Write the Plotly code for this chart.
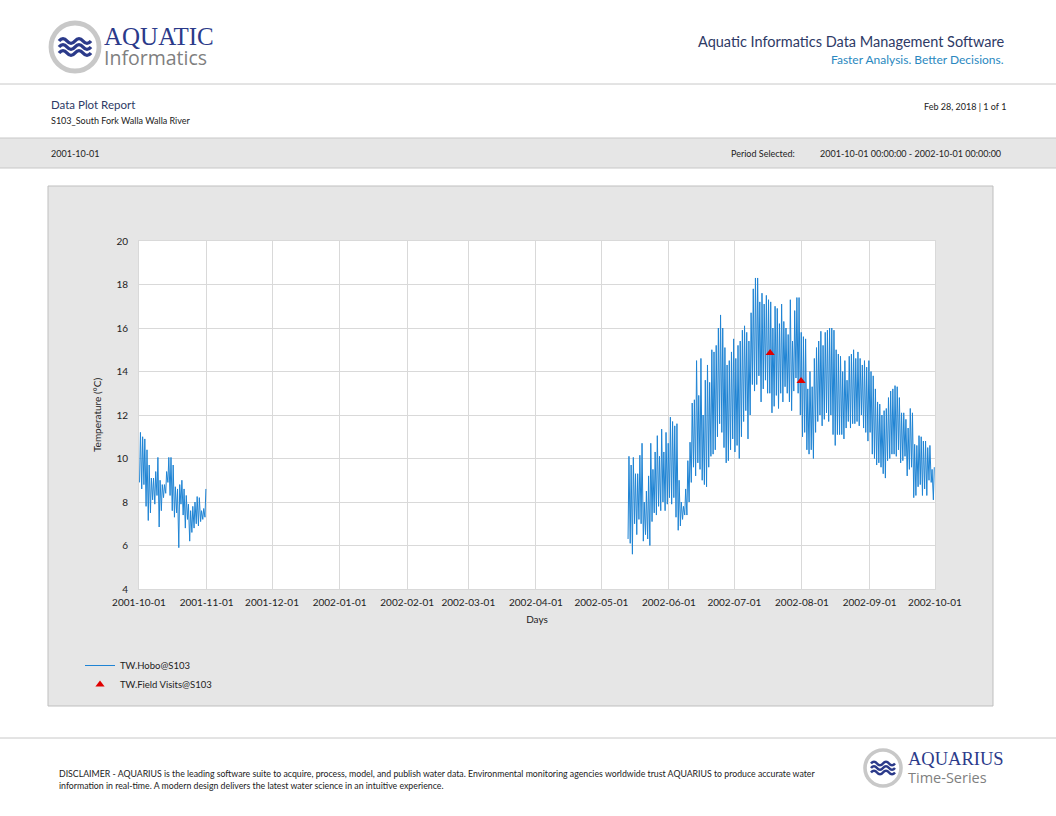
import pandas as pd
import plotly.graph_objects as go

W, H = 1056, 816

# %% Daten: Tagesmaximum / Tagesminimum
seg1_start = "2001-10-01"
seg1_max = [11.2, 11.0, 10.9, 10.4, 9.7, 9.1, 9.1, 9.4, 10.05, 9.0, 8.8, 8.8, 9.4, 10.05, 10.05, 9.7,
            8.7, 8.6, 8.8, 9.0, 8.6, 8.3, 7.9, 7.6, 7.8, 8.0, 8.25, 8.2, 7.6, 7.7, 8.6]
seg1_min = [8.9, 8.6, 8.8, 7.8, 7.15, 7.5, 8.1, 7.9, 8.3, 6.85, 7.6, 8.2, 8.4, 8.9, 8.3, 7.6,
            7.3, 7.5, 5.9, 7.9, 7.4, 6.8, 7.2, 6.2, 6.6, 6.8, 7.0, 6.9, 7.1, 7.2, 7.3]

seg2_start = "2002-05-13"
seg2_max = [10.1, 9.7, 10.05, 9.3, 9.3, 10.15, 10.7, 8.0, 8.5, 9.2, 10.7, 9.5, 10.3, 11.05, 10.1, 11.35,
            10.3, 11.2, 10.7, 11.9, 11.7, 11.5, 11.6, 9.0, 8.0, 7.8, 8.6, 9.9, 10.75, 12.55, 12.7, 14.5,
            12.9, 14.6, 12.0, 13.6, 14.3, 13.5, 15.0, 14.9, 15.2, 16.0, 16.6, 16.0, 15.1, 14.3, 14.5, 14.9,
            15.5, 14.6, 15.2, 15.4, 15.9, 16.1, 15.8, 15.4, 16.7, 17.8, 18.3, 18.3, 17.2,
            17.6, 17.1, 17.5, 17.3, 17.2, 16.0, 17.0, 16.9, 16.2, 17.1,
            16.3, 16.0, 15.7, 17.3, 15.4, 16.8, 17.4, 17.4, 15.8, 15.6, 15.5, 13.2, 14.0, 13.3, 14.6, 15.1,
            15.4, 15.85, 15.2, 15.8, 15.9, 16.0, 16.0, 15.9, 15.0, 14.8, 14.7, 14.0, 14.5, 13.6, 14.7, 14.8, 15.0,
            14.6, 14.9, 14.6, 14.3, 14.5, 14.2, 14.5, 14.0, 13.8, 13.2, 12.6, 12.5, 12.0, 12.2, 12.3, 12.8,
            13.1, 13.2, 13.35, 13.3, 12.8, 12.1, 12.1, 11.8, 11.4, 12.3, 12.1, 10.65, 10.6, 11.05, 11.0, 10.8,
            10.8, 10.5, 10.6, 9.5, 9.6]
seg2_min = [6.3, 6.1, 5.6, 7.0, 6.5, 7.2, 7.0, 6.2, 6.5, 6.3, 6.0, 7.1, 7.5, 7.4, 7.8, 7.6,
            8.0, 7.6, 7.9, 8.2, 7.9, 8.2, 7.3, 6.7, 6.9, 7.2, 7.4, 7.4, 8.0, 8.9, 9.6, 9.2,
            9.8, 9.5, 9.0, 8.8, 8.7, 9.6, 10.1, 10.2, 10.4, 11.0, 11.6, 11.2, 10.5, 9.8, 9.9, 10.4,
            10.9, 10.3, 10.6, 10.0, 11.0, 11.7, 12.2, 10.9, 12.0, 13.4, 13.1, 13.4, 13.8,
            12.6, 13.2, 13.6, 13.0, 13.0, 12.1, 12.4, 12.9, 12.3, 13.0,
            12.6, 13.3, 13.0, 12.6, 12.2, 13.1, 13.7, 13.0, 12.0, 11.0, 11.2, 10.4, 10.2, 10.4, 10.0, 11.2,
            11.7, 12.0, 11.5, 11.8, 12.1, 11.7, 12.0, 11.1, 10.6, 11.1, 11.1, 11.1, 10.9, 11.4, 11.7, 11.4, 11.6,
            11.6, 11.7, 11.5, 12.0, 11.4, 11.2, 10.8, 11.2, 10.2, 10.0, 9.7, 9.8, 9.6, 9.3, 9.1, 9.9,
            10.0, 10.2, 10.2, 10.1, 10.4, 9.8, 9.9, 10.1, 9.2, 9.5, 9.6, 8.2, 8.3, 8.7, 8.8, 8.3,
            8.6, 8.3, 9.0, 8.9, 8.1]

visit_dates = ["2002-07-17 10:00", "2002-07-31 14:00"]
visit_values = [14.85, 13.56]

month_ticks = pd.date_range("2001-10-01", "2002-10-01", freq="MS")


def zickzack(start, maxima, minima):
    xs, ys = [], []
    for i, (hi, lo) in enumerate(zip(maxima, minima)):
        tag = pd.Timestamp(start) + pd.Timedelta(days=i)
        xs += [tag + pd.Timedelta(hours=6), tag + pd.Timedelta(hours=16)]
        ys += [lo, hi]
    return xs, ys


x1, y1 = zickzack(seg1_start, seg1_max, seg1_min)
x2, y2 = zickzack(seg2_start, seg2_max, seg2_min)
hobo_x = x1 + [None] + x2
hobo_y = y1 + [None] + y2


def px(x):
    return x / W


def py(y):
    return 1 - y / H


FONT = "Lato"
NAVY = "#2b3a8a"
GRAU_LINIE = "#c8c8c8"

fig = go.Figure()
fig.add_trace(go.Scatter(x=hobo_x, y=hobo_y, mode="lines", name="TW.Hobo@S103",
                         line=dict(color="#1f84d4", width=1), connectgaps=False))
fig.add_trace(go.Scatter(x=visit_dates, y=visit_values, mode="markers", name="TW.Field Visits@S103",
                         marker=dict(symbol="triangle-up", color="#e00000", size=8)))

shapes = []
# Kopf- und Fusslinien
shapes.append(dict(type="line", xref="paper", yref="paper", x0=0, x1=1, y0=py(84), y1=py(84),
                   line=dict(color=GRAU_LINIE, width=1)))
shapes.append(dict(type="rect", xref="paper", yref="paper", x0=-0.01, x1=1.01, y0=py(168), y1=py(138),
                   fillcolor="#e6e6e6", line=dict(color=GRAU_LINIE, width=1), layer="below"))
shapes.append(dict(type="rect", xref="paper", yref="paper", x0=px(48), x1=px(993), y0=py(706), y1=py(186),
                   fillcolor="#e6e6e6", line=dict(color="#bfbfbf", width=1), layer="below"))
# weisser Plotbereich
shapes.append(dict(type="rect", xref="x domain", yref="y domain", x0=0, x1=1, y0=0, y1=1,
                   fillcolor="white", line_width=0, layer="below"))
shapes.append(dict(type="line", xref="paper", yref="paper", x0=0, x1=1, y0=py(738), y1=py(738),
                   line=dict(color=GRAU_LINIE, width=1)))


def logo(cx, cy, r, wave_w):
    shapes.append(dict(type="circle", xref="paper", yref="paper",
                       x0=px(cx - r), x1=px(cx + r), y0=py(cy + r), y1=py(cy - r),
                       fillcolor="white", line=dict(color="#c8c8c8", width=max(2.5, r / 5))))
    step = r * 0.25
    for k in (-1, 0, 1):
        y = cy + k * step
        x0 = cx - wave_w / 2
        h = wave_w / 4
        a = r * 0.1
        path = f"M{px(x0)},{py(y)} Q{px(x0 + h / 2)},{py(y - a * 2)} {px(x0 + h)},{py(y)}"
        for j in range(2, 5):
            path += f" T{px(x0 + h * j)},{py(y)}"
        shapes.append(dict(type="path", xref="paper", yref="paper", path=path,
                           line=dict(color=NAVY, width=max(2, r / 7))))


logo(75, 47, 24, 32)
logo(883, 768, 18, 24)

ann = []


def text(x, y, s, size, color="#222222", anchor="left", family=FONT):
    ann.append(dict(x=px(x), y=py(y), xref="paper", yref="paper", text=s, showarrow=False,
                    xanchor=anchor, yanchor="middle", align=anchor if anchor != "center" else "center",
                    font=dict(size=size, color=color, family=family)))


def wortmarke(x, y, oben, unten, g_oben, g_unten, abstand):
    s = (f"<span style='font-family:Liberation Serif;font-size:{g_oben}px;color:{NAVY}'>{oben}</span><br>"
         f"<span style='font-family:Open Sans;font-size:{g_unten}px;color:#7f7f7f'>{unten}</span>")
    text(x, y, s, abstand)


wortmarke(102, 47, "AQUATIC", "Informatics", 25, 19.5, 15.5)
text(1006, 41, "Aquatic Informatics Data Management Software", 14.5, "#2e3a66", anchor="right")
text(1006, 60, "Faster Analysis. Better Decisions.", 12, "#2a88c0", anchor="right")
text(49, 105, "Data Plot Report", 11.5, "#2e3a66")
text(49, 120, "S103_South Fork Walla Walla River", 9)
text(1008, 107, "Feb 28, 2018 | 1 of 1", 9, anchor="right")
text(49, 153, "2001-10-01", 9)
text(729, 153, "Period Selected:", 9)
text(818, 153, "2001-10-01 00:00:00 - 2002-10-01 00:00:00", 9)
text(57, 773, "DISCLAIMER - AQUARIUS is the leading software suite to acquire, process, model, and publish water data. "
              "Environmental monitoring agencies worldwide trust AQUARIUS to produce accurate water", 8.75)
text(57, 785, "information in real-time. A modern design delivers the latest water science in an intuitive experience.",
     8.75)
wortmarke(906, 768, "AQUARIUS", "Time-Series", 18.5, 14.5, 13.5)

fig.update_layout(
    width=W, height=H, autosize=False,
    margin=dict(l=0, r=0, t=0, b=0, pad=0, autoexpand=False),
    paper_bgcolor="white", plot_bgcolor="white",
    font=dict(family=FONT, size=10, color="#222222"),
    shapes=shapes, annotations=ann,
    showlegend=True,
    legend=dict(x=px(80), y=py(651), xanchor="left", yanchor="top", bgcolor="rgba(0,0,0,0)",
                font=dict(size=9.5, family=FONT), tracegroupgap=0, itemwidth=30),
    xaxis=dict(domain=[px(139), px(935)], range=["2001-10-01", "2002-10-01"], automargin=False,
               tickvals=month_ticks, tickformat="%Y-%m-%d", showgrid=True, gridcolor="#d9d9d9",
               linecolor="#d9d9d9", showline=True, mirror=True, zeroline=False,
               ticks="", ticklabelstandoff=4, tickfont=dict(size=10),
               title=dict(text="Days", font=dict(size=10), standoff=8)),
    yaxis=dict(domain=[py(589), py(241)], range=[4, 20], dtick=2, showgrid=True, gridcolor="#d9d9d9",
               linecolor="#d9d9d9", showline=True, mirror=True, zeroline=False, automargin=False,
               ticks="", ticklabelstandoff=8, tickfont=dict(size=10),
               title=dict(text="Temperature (°C)", font=dict(size=10), standoff=12)),
)

# Seitenrand des Browsers entfernen, damit das Blatt bei 0,0 beginnt
fig.write_html("out.html", config={"displayModeBar": False},
               post_script="document.body.style.margin='0px';")
